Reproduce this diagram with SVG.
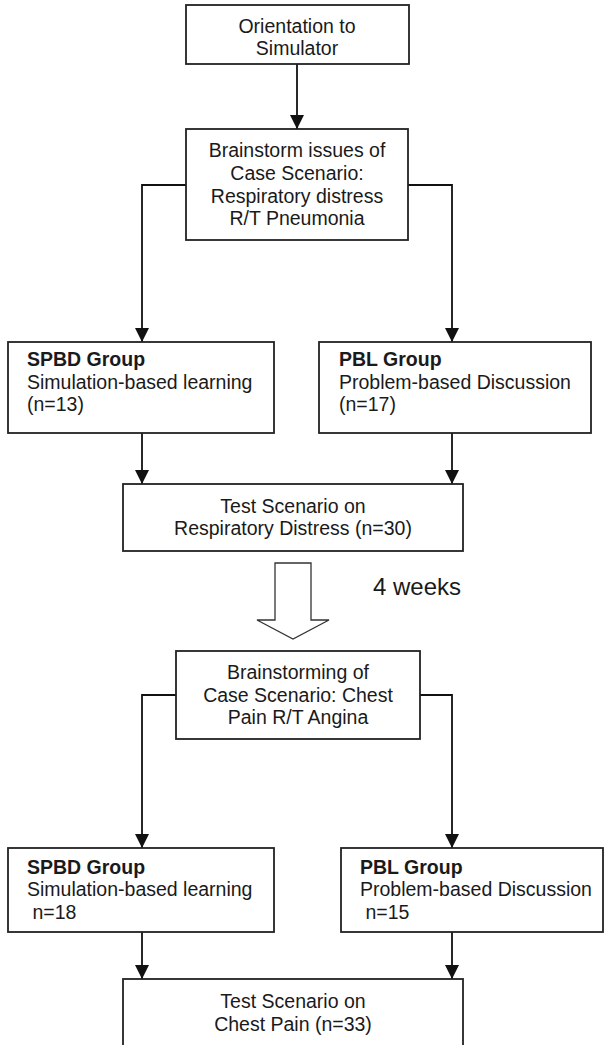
<svg xmlns="http://www.w3.org/2000/svg" width="604" height="1045" viewBox="0 0 604 1045">
<style>
.box{fill:#fff;stroke:#222;stroke-width:1.8}
.t{font-family:"Liberation Sans",Arial,sans-serif;font-size:19.5px;fill:#1a1a1a}
.c{text-anchor:middle}
.b{font-weight:bold}
.con{fill:none;stroke:#111;stroke-width:1.8}
</style>
<defs>
<marker id="ah" markerUnits="userSpaceOnUse" markerWidth="14" markerHeight="14" refX="14" refY="7" orient="auto" viewBox="0 0 14 14">
<path d="M0,0 L14,7 L0,14 z" fill="#111"/>
</marker>
</defs>
<rect width="604" height="1045" fill="#fff"/>
<g id="connectors">
<line class="con" x1="297" y1="64" x2="297" y2="129" marker-end="url(#ah)"/>
<polyline class="con" points="186,185 142,185 142,342" marker-end="url(#ah)"/>
<polyline class="con" points="408,185 452,185 452,342" marker-end="url(#ah)"/>
<line class="con" x1="142" y1="433" x2="142" y2="484" marker-end="url(#ah)"/>
<line class="con" x1="452" y1="433" x2="452" y2="484" marker-end="url(#ah)"/>
<polygon points="275,563 311,563 311,620 329,620 293,639 257,620 275,620" fill="#fff" stroke="#333" stroke-width="1.3"/>
<polyline class="con" points="176,695 142,695 142,848" marker-end="url(#ah)"/>
<polyline class="con" points="420,695 452,695 452,848" marker-end="url(#ah)"/>
<line class="con" x1="142" y1="932" x2="142" y2="979" marker-end="url(#ah)"/>
<line class="con" x1="452" y1="932" x2="452" y2="979" marker-end="url(#ah)"/>
</g>
<g id="orientation">
<rect class="box" x="186" y="5" width="223" height="59"/>
<text class="t c" x="297" y="33">Orientation to</text>
<text class="t c" x="297" y="55">Simulator</text>
</g>
<g id="brainstorm1">
<rect class="box" x="186" y="129" width="222" height="111"/>
<text class="t c" x="297" y="157">Brainstorm issues of</text>
<text class="t c" x="297" y="180">Case Scenario:</text>
<text class="t c" x="297" y="203">Respiratory distress</text>
<text class="t c" x="297" y="225">R/T Pneumonia</text>
</g>
<g id="spbd1">
<rect class="box" x="8" y="342" width="266" height="91"/>
<text class="t b" x="27" y="366">SPBD Group</text>
<text class="t" x="27" y="389">Simulation-based learning</text>
<text class="t" x="27" y="411">(n=13)</text>
</g>
<g id="pbl1">
<rect class="box" x="319" y="342" width="272" height="91"/>
<text class="t b" x="339" y="366">PBL Group</text>
<text class="t" x="339" y="389">Problem-based Discussion</text>
<text class="t" x="339" y="411">(n=17)</text>
</g>
<g id="test1">
<rect class="box" x="123" y="484" width="340" height="67"/>
<text class="t c" x="293" y="513">Test Scenario on</text>
<text class="t c" x="293" y="535">Respiratory Distress (n=30)</text>
</g>
<g id="weeks">
<text class="t" x="373" y="595" style="font-size:24px">4 weeks</text>
</g>
<g id="brainstorm2">
<rect class="box" x="176" y="651" width="244" height="88"/>
<text class="t c" x="298" y="679">Brainstorming of</text>
<text class="t c" x="298" y="702">Case Scenario: Chest</text>
<text class="t c" x="298" y="724">Pain R/T Angina</text>
</g>
<g id="spbd2">
<rect class="box" x="8" y="848" width="266" height="84"/>
<text class="t b" x="27" y="874">SPBD Group</text>
<text class="t" x="27" y="896">Simulation-based learning</text>
<text class="t" x="27" y="919" xml:space="preserve"> n=18</text>
</g>
<g id="pbl2">
<rect class="box" x="341" y="848" width="262" height="84"/>
<text class="t b" x="360" y="874">PBL Group</text>
<text class="t" x="360" y="896">Problem-based Discussion</text>
<text class="t" x="360" y="919" xml:space="preserve"> n=15</text>
</g>
<g id="test2">
<rect class="box" x="123" y="979" width="340" height="80"/>
<text class="t c" x="293" y="1008">Test Scenario on</text>
<text class="t c" x="293" y="1031">Chest Pain (n=33)</text>
</g>
</svg>
